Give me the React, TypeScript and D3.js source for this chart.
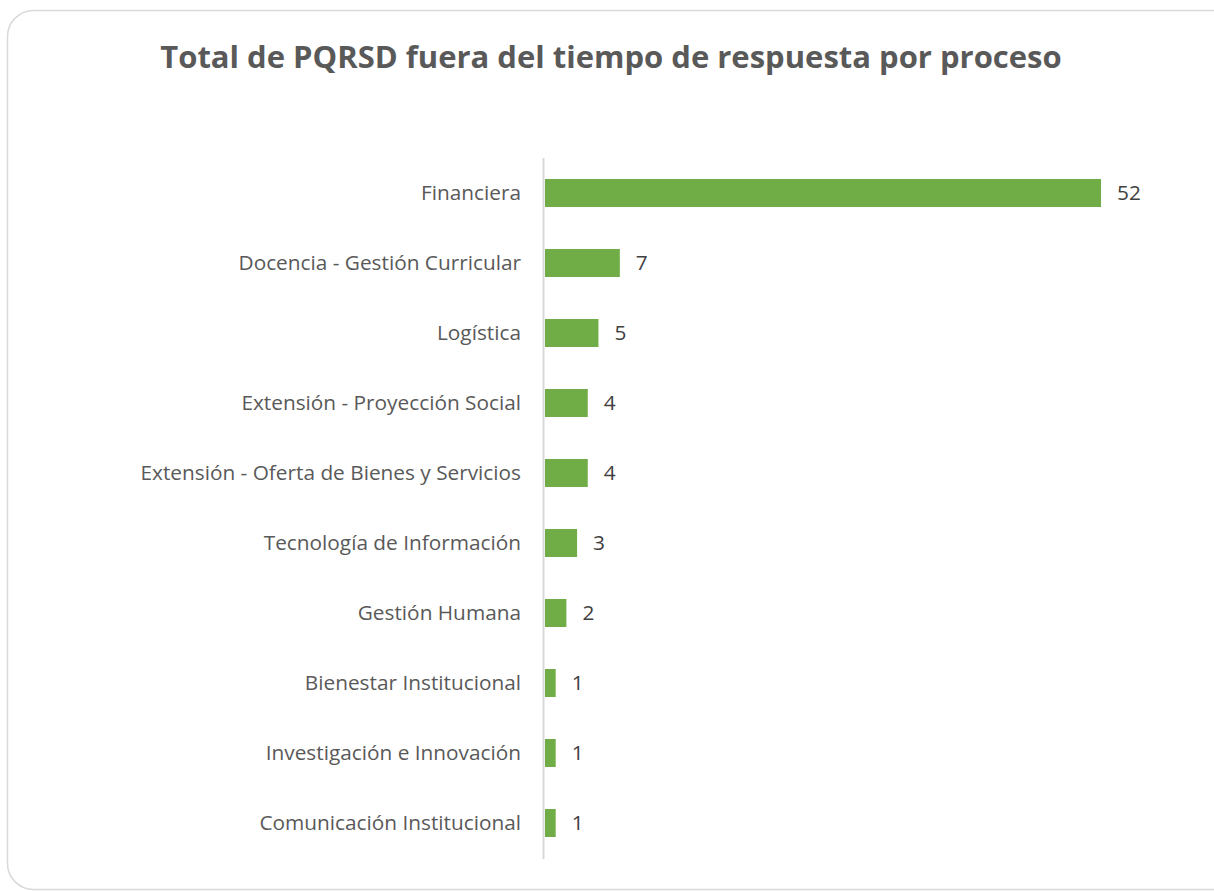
import React from "react";
import * as d3 from "d3";

const categories = [
  "Financiera",
  "Docencia - Gestión Curricular",
  "Logística",
  "Extensión - Proyección Social",
  "Extensión - Oferta de Bienes y Servicios",
  "Tecnología de Información",
  "Gestión Humana",
  "Bienestar Institucional",
  "Investigación e Innovación",
  "Comunicación Institucional",
];
const values = [52, 7, 5, 4, 4, 3, 2, 1, 1, 1];
const title = "Total de PQRSD fuera del tiempo de respuesta por proceso";

const W = 1214;
const H = 892;
const FONT = "'Open Sans', sans-serif";

export default function App() {
  const x = d3.scaleLinear().domain([0, 52]).range([545, 1101]);
  const y = d3.scaleBand<string>().domain(categories).range([158, 858]).paddingInner(0.6).paddingOuter(0.3);
  return (
    <div style={{ position: "absolute", left: 0, top: 0 }}>
      <svg width={W} height={H} style={{ display: "block", background: "#fff" }}>
        <rect x={7.5} y={10.5} width={1240} height={879} rx={26} ry={26} fill="#fff" stroke="#d9d9d9" strokeWidth={1.5} />
        <text x={611} y={68} textAnchor="middle" fontFamily={FONT} fontWeight="bold" fontSize={31} fill="#595959">
          {title}
        </text>
        <line x1={543.5} x2={543.5} y1={158} y2={859} stroke="#d9d9d9" strokeWidth={2} />
        {categories.map((c, i) => {
          const yy = y(c)!;
          const bw = y.bandwidth();
          return (
            <g key={c}>
              <rect x={x(0)} y={yy} width={x(values[i]) - x(0)} height={bw} fill="#70ad47" />
              <text x={521} y={yy + bw / 2} dy="0.36em" textAnchor="end" fontFamily={FONT} fontSize={20.8} fill="#595959">
                {c}
              </text>
              <text x={x(values[i]) + 16} y={yy + bw / 2} dy="0.36em" fontFamily={FONT} fontSize={20.8} fill="#404040">
                {values[i]}
              </text>
            </g>
          );
        })}
      </svg>
    </div>
  );
}
